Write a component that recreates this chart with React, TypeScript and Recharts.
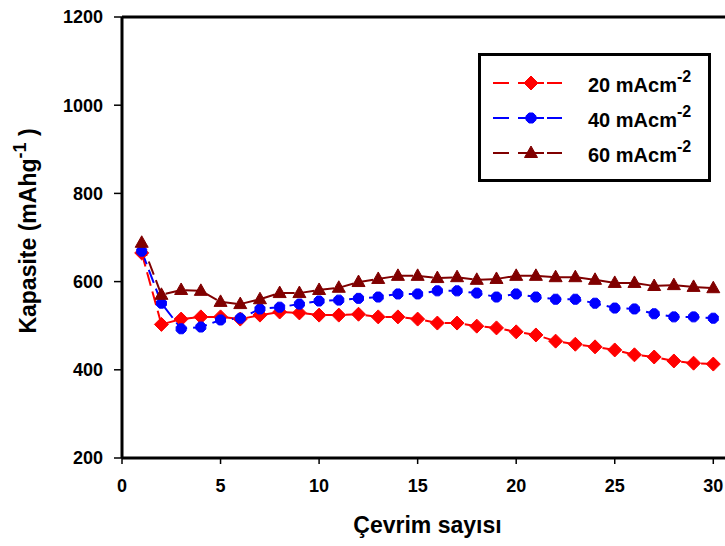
import React from "react";
import { LineChart, Line, XAxis, YAxis, ReferenceLine } from "recharts";

const cycles = [1, 2, 3, 4, 5, 6, 7, 8, 9, 10, 11, 12, 13, 14, 15, 16, 17, 18, 19, 20, 21, 22, 23, 24, 25, 26, 27, 28, 29, 30];
const cap20 = [665, 503, 515, 520, 520, 515, 524, 531, 529, 524, 524, 526, 520, 520, 515, 506, 506, 499, 495, 486, 479, 465, 458, 452, 445, 434, 429, 420, 415, 413];
const cap40 = [669, 551, 493, 497, 513, 517, 538, 542, 549, 556, 558, 562, 565, 572, 572, 579, 579, 574, 565, 572, 565, 560, 560, 551, 540, 538, 527, 520, 520, 517];
const cap60 = [688, 570, 581, 579, 554, 549, 560, 574, 574, 581, 586, 599, 606, 613, 613, 608, 610, 604, 606, 613, 613, 610, 610, 604, 597, 597, 590, 592, 588, 585];

const xTicks = [0, 5, 10, 15, 20, 25, 30];
const yTicks = [200, 400, 600, 800, 1000, 1200];

const seriesNames = ["20 mAcm", "40 mAcm", "60 mAcm"];
const seriesColors = ["#ff0000", "#0000ff", "#800000"];
const seriesKeys = ["s20", "s40", "s60"];

const data = cycles.map((c, i) => ({ cycle: c, s20: cap20[i], s40: cap40[i], s60: cap60[i] }));

const FONT = '"Liberation Sans", Arial, sans-serif';

function markerPath(kind: number, cx: number, cy: number): string {
  if (kind === 0) {
    return `M${cx},${cy - 7} L${cx + 7},${cy} L${cx},${cy + 7} L${cx - 7},${cy} Z`;
  }
  if (kind === 2) {
    return `M${cx},${cy - 7} L${cx + 6.5},${cy + 4.5} L${cx - 6.5},${cy + 4.5} Z`;
  }
  const r = 5.4;
  const pts: string[] = [];
  for (let k = 0; k < 8; k++) {
    const a = (Math.PI / 8) + (k * Math.PI) / 4;
    pts.push(`${(cx + r * Math.cos(a)).toFixed(2)},${(cy + r * Math.sin(a)).toFixed(2)}`);
  }
  return "M" + pts.join(" L") + " Z";
}

const makeDot = (kind: number) => (props: any) => {
  const { cx, cy, index } = props;
  if (cx == null || cy == null) return <g key={`e-${kind}-${index}`} />;
  const col = seriesColors[kind];
  return <path key={`m-${kind}-${index}`} d={markerPath(kind, cx, cy)} fill={col} stroke={col} strokeWidth={1} />;
};

const YLabel = () => (
  <text
    x={36}
    y={231}
    transform="rotate(-90, 36, 231)"
    textAnchor="middle"
    fontFamily={FONT}
    fontWeight="bold"
    fontSize={23}
    fill="#000"
  >
    Kapasite (mAhg
    <tspan dy={-10} fontSize={18}>-1</tspan>
    <tspan dy={10}> )</tspan>
  </text>
);

const XLabel = (props: any) => {
  const vb = props.viewBox || { x: 122, width: 611 };
  return (
    <text
      x={vb.x + vb.width / 2}
      y={533}
      textAnchor="middle"
      fontFamily={FONT}
      fontWeight="bold"
      fontSize={23}
      fill="#000"
    >
      Çevrim sayısı
    </text>
  );
};

const LegendBox = () => {
  const rowY = [83, 118, 153];
  return (
    <div
      style={{
        position: "absolute",
        left: 478,
        top: 53,
        width: 233,
        height: 129,
        boxSizing: "border-box",
        border: "3px solid #000",
        background: "#fff",
      }}
    >
      <svg width={227} height={123} style={{ position: "absolute", left: 0, top: 0 }}>
        {seriesNames.map((name, i) => {
          const y = rowY[i] - 56;
          const col = seriesColors[i];
          const mx = 531 - 481;
          return (
            <g key={name}>
              <line x1={493 - 481} x2={509 - 481} y1={y} y2={y} stroke={col} strokeWidth={2} />
              <line x1={518 - 481} x2={544 - 481} y1={y} y2={y} stroke={col} strokeWidth={2} />
              <line x1={547 - 481} x2={562 - 481} y1={y} y2={y} stroke={col} strokeWidth={2} />
              <path d={markerPath(i, mx, y)} fill={col} stroke={col} strokeWidth={1} />
              <text x={588 - 481} y={y + 9} fontFamily={FONT} fontWeight="bold" fontSize={20} fill="#000">
                {name}
                <tspan dy={-10} fontSize={16}>-2</tspan>
              </text>
            </g>
          );
        })}
      </svg>
    </div>
  );
};

export default function App() {
  return (
    <div style={{ position: "relative", width: 725, height: 546, overflow: "hidden", background: "#fff" }}>
      <style>{"body{margin:0;overflow:hidden;background:#fff}"}</style>
      <LineChart
        width={740}
        height={546}
        data={data}
        margin={{ top: 17, right: 7, left: 0, bottom: 48 }}
      >
        <XAxis
          dataKey="cycle"
          type="number"
          domain={[0, 31]}
          ticks={xTicks}
          allowDataOverflow
          height={40}
          axisLine={{ stroke: "#000", strokeWidth: 3 }}
          tickLine={{ stroke: "#000", strokeWidth: 1.5 }}
          tickSize={6}
          tickMargin={15}
          tick={{ fill: "#000", fontFamily: FONT, fontWeight: "bold", fontSize: 18 }}
          interval={0}
          label={<XLabel />}
        />
        <YAxis
          type="number"
          domain={[200, 1200]}
          ticks={yTicks}
          width={122}
          axisLine={{ stroke: "#000", strokeWidth: 3 }}
          tickLine={{ stroke: "#000", strokeWidth: 1.5 }}
          tickSize={8}
          tickMargin={11}
          tick={{ fill: "#000", fontFamily: FONT, fontWeight: "bold", fontSize: 18 }}
          interval={0}
          label={<YLabel />}
        />
        <ReferenceLine y={1200} stroke="#000" strokeWidth={3} ifOverflow="visible" />
        <ReferenceLine x={31} stroke="#000" strokeWidth={3} ifOverflow="visible" />
        {seriesKeys.map((k, i) => (
          <Line
            key={k}
            type="linear"
            dataKey={k}
            name={seriesNames[i]}
            stroke={seriesColors[i]}
            strokeWidth={2}
            strokeDasharray="14 6"
            dot={makeDot(i)}
            activeDot={false}
            isAnimationActive={false}
          />
        ))}
      </LineChart>
      <LegendBox />
    </div>
  );
}
